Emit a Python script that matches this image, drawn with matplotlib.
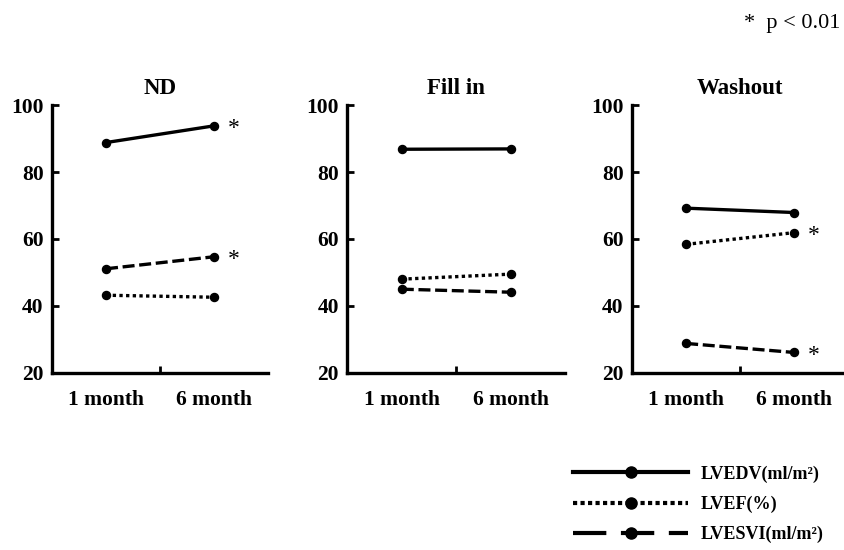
import matplotlib.pyplot as plt
from matplotlib.lines import Line2D

plt.rcParams['font.family'] = ['Liberation Serif', 'DejaVu Serif']

# data
panels = ['ND', 'Fill in', 'Washout']
timepoints = ['1 month', '6 month']
lvedv = [[88.8, 93.8], [86.8, 86.9], [69.2, 67.9]]
lvef = [[43.2, 42.6], [48.0, 49.5], [58.4, 61.9]]
lvesvi = [[51.1, 54.7], [45.0, 44.1], [28.8, 26.1]]
# which series got a significance star at 6 month, per panel
stars = [['lvedv', 'lvesvi'], [], ['lvef', 'lvesvi']]

series = {
    'lvedv': (lvedv, '-'),
    'lvef': (lvef, (0, (1.0, 1.0))),
    'lvesvi': (lvesvi, (0, (3.6, 1.4))),
}
xpos = [0.25, 0.75]

fig = plt.figure(figsize=(8.45, 5.5), dpi=100)
lefts = [0.0615, 0.411, 0.748]
widths = [0.256, 0.258, 0.256]

for i, name in enumerate(panels):
    ax = fig.add_axes([lefts[i], 0.322, widths[i], 0.487])
    for key, (vals, ls) in series.items():
        ax.plot(xpos, vals[i], color='black', lw=2.4, linestyle=ls,
                marker='o', markersize=5.8, dash_capstyle='butt')
        if key in stars[i]:
            ax.text(xpos[1] + 0.09, vals[i][1] - 0.9, '*', fontsize=17,
                    ha='center', va='center')
    ax.set_xlim(0, 1)
    ax.set_ylim(20, 100)
    ax.set_yticks([20, 40, 60, 80, 100])
    ax.set_xticks(xpos)
    ax.set_xticklabels(timepoints)
    ax.set_xticks([0.5], minor=True)
    ax.tick_params(axis='x', which='major', length=0, pad=12)
    ax.tick_params(axis='x', which='minor', direction='in', length=5, width=2)
    ax.tick_params(axis='y', direction='in', length=5, width=2, pad=6)
    for lab in ax.get_xticklabels() + ax.get_yticklabels():
        lab.set_fontsize(15.5)
        lab.set_fontweight('bold')
    for s in ['top', 'right']:
        ax.spines[s].set_visible(False)
    for s in ['left', 'bottom']:
        ax.spines[s].set_linewidth(2.4)
    ax.set_title(name, fontsize=16.5, fontweight='bold', pad=8)

fig.text(0.994, 0.958, '*  p < 0.01', fontsize=16, ha='right', va='center')

handles = [
    Line2D([], [], color='black', lw=3, linestyle='-', marker='o', markersize=8),
    Line2D([], [], color='black', lw=3, linestyle=(0, (1.0, 0.8)), marker='o', markersize=8),
    Line2D([], [], color='black', lw=3, linestyle=(0, (8, 3.5)), marker='o', markersize=8),
]
labels = ['LVEDV(ml/m²)', 'LVEF(%)', 'LVESVI(ml/m²)']
fig.legend(handles, labels, loc='lower right', bbox_to_anchor=(0.975, 0.012),
           frameon=False, numpoints=1, handlelength=6.4, handletextpad=0.7,
           labelspacing=0.72, borderaxespad=0, borderpad=0,
           prop={'size': 13, 'weight': 'bold'})

fig.savefig('out.png', dpi=100)
